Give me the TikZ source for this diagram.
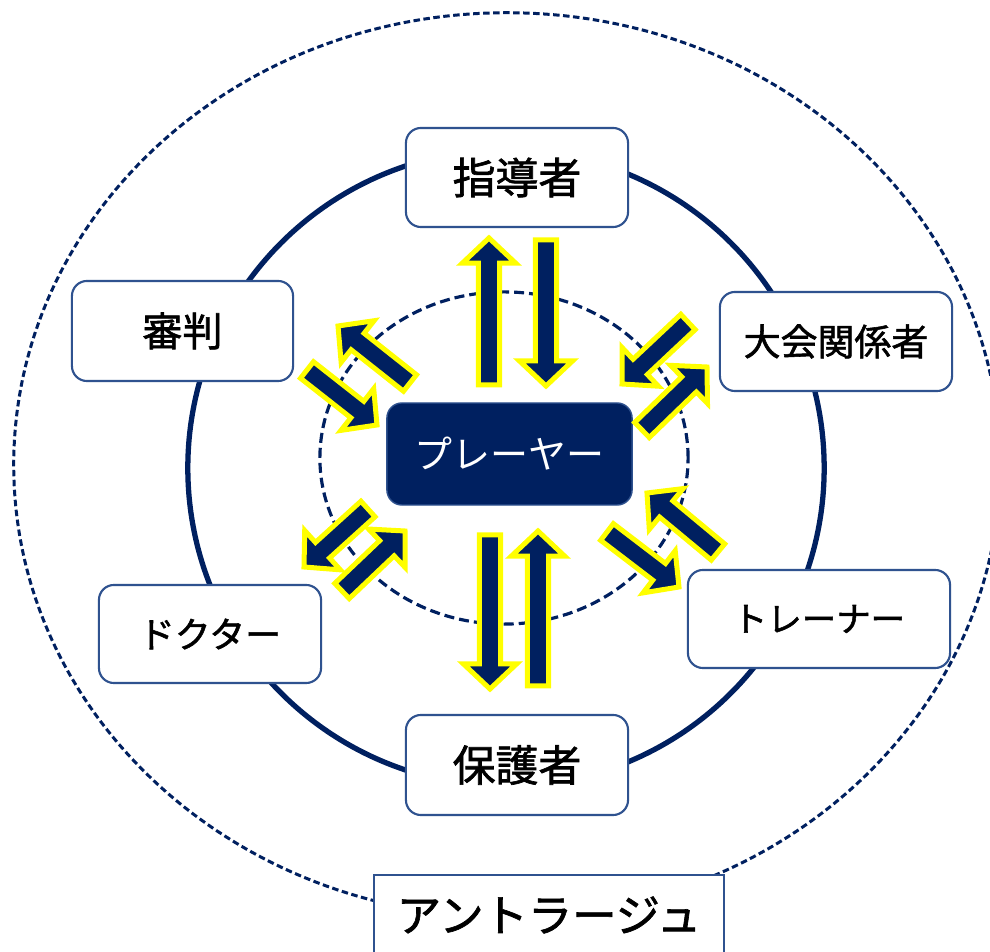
\documentclass[tikz,border=0pt]{standalone}
\usepackage{fontspec}
\setmainfont{Noto Sans CJK JP}
\newfontfamily\jpb{Noto Sans CJK JP}[FakeBold=1.5]
\usetikzlibrary{calc}
\definecolor{navy}{HTML}{002060}
\definecolor{bordblue}{HTML}{2F528F}
\definecolor{yel}{HTML}{FFFF00}
\tikzset{
  pbox/.style={draw=bordblue, line width=0.6pt, fill=white, rounded corners=0.15cm,
    minimum width=2.22cm, minimum height=0.99cm, inner sep=0pt, text=black},
  blkarrow/.style={fill=navy, draw=yel, line width=0.05cm, line join=miter},
  outerdash/.style={draw=navy, line width=0.85pt, dash pattern=on 0.065cm off 0.035cm},
  innerdash/.style={draw=navy, line width=0.9pt, dash pattern=on 0.1cm off 0.05cm},
}
\newcommand\blkarrow[2]{%
  \path ($(#2)!0.25cm!(#1)$) coordinate (hh);
  \filldraw[blkarrow] ($(#1)!0.105cm!90:(#2)$) -- ($(hh)!0.105cm!90:(#2)$) --
    ($(hh)!0.265cm!90:(#2)$) -- (#2) -- ($(hh)!0.265cm!-90:(#2)$) --
    ($(hh)!0.105cm!-90:(#2)$) -- ($(#1)!0.105cm!-90:(#2)$) -- cycle;}
\begin{document}
\begin{tikzpicture}[x=0.01cm,y=-0.01cm]
\clip (0,0) rectangle (990,952);
\fill[white] (0,0) rectangle (990,952);
% outer dashed ellipse
\draw[outerdash] (507,465) ellipse [x radius=4.93cm, y radius=4.52cm];
% solid circle
\draw[navy, line width=1.5pt] (506,468) circle [radius=3.18cm];
% inner dashed circle
\draw[innerdash] (504,458) ellipse [x radius=1.84cm, y radius=1.66cm];

% boxes
\node[pbox] (shido) at (517,177.5) {\jpb\fontsize{12.2pt}{14pt}\selectfont 指導者};
\node[pbox, minimum width=2.21cm, minimum height=1.0cm] (shinpan) at (182.5,331) {\jpb\fontsize{11.4pt}{14pt}\selectfont 審判};
\node[pbox, minimum width=2.32cm] (taikai) at (836,341.5) {\jpb\fontsize{10.5pt}{13pt}\selectfont 大会関係者};
\node[pbox, minimum height=0.98cm] (doctor) at (210,634) {\jpb\fontsize{10.2pt}{13pt}\selectfont ドクター};
\node[pbox, minimum width=2.62cm, minimum height=0.98cm] (trainer) at (819,619) {\jpb\fontsize{9.8pt}{13pt}\selectfont トレーナー};
\node[pbox, minimum height=1.0cm] (hogo) at (517,765) {\jpb\fontsize{12.2pt}{14pt}\selectfont 保護者};
\node[draw=bordblue, line width=0.6pt, fill=white, minimum width=3.5cm, minimum height=0.8cm, inner sep=0pt] (ent) at (549,915) {\jpb\fontsize{12.6pt}{15pt}\selectfont アントラージュ};

% player
\node[fill=navy, draw=bordblue, line width=0.4pt, rounded corners=0.15cm, minimum width=2.45cm, minimum height=1.02cm, inner sep=0pt, text=white] (player) at (509.5,454) {\fontsize{10.8pt}{13pt}\selectfont プレーヤー};

% arrow end points
\coordinate (t1s) at (489,385); \coordinate (t1e) at (489,238);
\coordinate (t2s) at (546,240); \coordinate (t2e) at (546,386);
\coordinate (b1s) at (490,535); \coordinate (b1e) at (490,689);
\coordinate (b2s) at (538,686); \coordinate (b2e) at (538,531);
\coordinate (ul1s) at (410,383); \coordinate (ul1e) at (338,326);
\coordinate (ul2s) at (307,370); \coordinate (ul2e) at (377,425);
\coordinate (ur1s) at (688,322); \coordinate (ur1e) at (622,384);
\coordinate (ur2s) at (642,430); \coordinate (ur2e) at (707,367);
\coordinate (ll1s) at (368,509); \coordinate (ll1e) at (304,567);
\coordinate (ll2s) at (342,591); \coordinate (ll2e) at (405,531);
\coordinate (lr1s) at (718,552); \coordinate (lr1e) at (647,493);
\coordinate (lr2s) at (607,532); \coordinate (lr2e) at (679,587);

\blkarrow{t1s}{t1e}
\blkarrow{t2s}{t2e}
\blkarrow{b1s}{b1e}
\blkarrow{b2s}{b2e}
\blkarrow{ul1s}{ul1e}
\blkarrow{ul2s}{ul2e}
\blkarrow{ur1s}{ur1e}
\blkarrow{ur2s}{ur2e}
\blkarrow{ll1s}{ll1e}
\blkarrow{ll2s}{ll2e}
\blkarrow{lr1s}{lr1e}
\blkarrow{lr2s}{lr2e}
\end{tikzpicture}
\end{document}
